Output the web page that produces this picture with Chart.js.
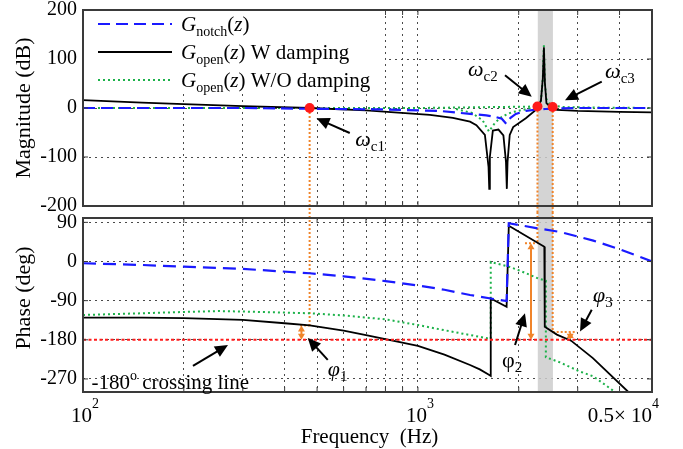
<!DOCTYPE html>
<html>
<head>
<meta charset="utf-8">
<script src="https://cdn.jsdelivr.net/npm/chart.js@4.4.0/dist/chart.umd.min.js"></script>
<style>
  body { margin: 0; background: #fff; }
  #wrap { position: relative; width: 683px; height: 449px; }
  canvas { position: absolute; left: 0; }
  #magChart { top: 0; }
  #phaseChart { top: 212px; }
</style>
</head>
<body>
<div id="wrap">
  <canvas id="magChart" width="683" height="212"></canvas>
  <canvas id="phaseChart" width="683" height="237"></canvas>
</div>
<script>
// ---- values (frequency in Hz) ----
const notchMagFreq = [100, 300, 546, 800, 1160, 1431, 1600, 1700, 1780, 1835, 1890, 1960, 2100, 2275, 2400, 2600, 3000, 5000];
const notchMagDb   = [0, 0, -2, -3, -6, -12, -15, -18, -22, -32, -20, -12, -6, -3, -2, -1, 0, 0];

const openMagFreq = [100, 150, 200, 300, 475, 700, 1086, 1272, 1431, 1495, 1585, 1625, 1633, 1640, 1674, 1740, 1800, 1832, 1843, 1852,
                     1880, 1925, 2100, 2250, 2275, 2330, 2360, 2378, 2395, 2420, 2460, 2526, 2600, 3000, 4000, 5000];
const openMagDb   = [16, 11, 8, 4, 0, -5, -14, -20, -28, -35, -55, -120, -165, -100, -46, -44, -56, -110, -165, -110,
                     -55, -39, -21, -4, 1, 15, 60, 124, 50, 10, 5, 1, -4, -6, -8, -9];

const undampedMagFreq = [100, 1000, 2275, 2330, 2360, 2378, 2395, 2420, 2460, 2526, 2700, 3200, 5000];
const undampedMagDb   = [0, 0, 3, 15, 60, 128, 50, 18, 10, 5, 2, 1, 0];
const undampedDipFreq = [1300, 1450, 1560, 1630, 1700, 1780, 1900, 2050, 2275];
const undampedDipDb   = [-2, -10, -25, -48, -30, -18, -9, -4, 3];

const notchPhaseFreq = [100, 150, 200, 300, 475, 600, 800, 1000, 1200, 1431, 1650, 1840, 1868, 2288, 2656, 3340, 4010, 5000];
const notchPhaseDeg  = [-4, -8, -12, -17, -27, -34, -45, -55, -65, -77, -85, -91, 88, 76, 68, 48, 28, 0];

const openPhaseFreq = [100, 150, 200, 300, 400, 475, 600, 700, 820, 1000, 1200, 1431, 1530, 1620, 1650, 1650, 1840, 1868, 2385, 2392, 2600, 2866, 3330, 4250];
const openPhaseDeg  = [-129, -129, -130, -134, -142, -147, -159, -169, -180, -194, -214, -238, -248, -259, -263, -85, -104, 82, 34, -150, -168, -182, -222, -300];

const undampedPhaseFreq = [100, 150, 200, 255, 300, 475, 600, 800, 1000, 1200, 1431, 1600, 1650, 1650, 1870, 2000, 2288, 2410, 2410, 2656, 3048, 3340, 3879];
const undampedPhaseDeg  = [-123, -119, -116, -114, -115, -119, -124, -133, -146, -158, -169, -176, -178, -1, -12, -20, -39, -44, -220, -232, -253, -264, -300];

const crossLineFreq = [100, 5000];
const crossLineDeg  = [-180, -180];

// crossover points wc1..wc3 and phase margins phi1..phi3
const crossFreq     = [475, 2275, 2526];
const crossMagDb    = [0, 3, 2];
const crossPhaseDeg = [-147, 42, -162];
const marginFreq    = [449, 2176, 2850];
const guideFromFreq = [445, 2088, 2526];
const guideToFreq   = [475, 2275, 2982];
const bandFreq      = [2280, 2530];

// axis ticks
const xGridTicks = [100, 200, 300, 400, 500, 600, 700, 800, 900, 1000, 2000, 3000, 4000, 5000];
const magTicks   = [-200, -100, 0, 100, 200];
const phaseTicks = [-270, -180, -90, 0, 90];
const xTickValues = [100, 1000, 5000];
const xTickBase   = ['10', '10', '0.5\u00d7 10'];
const xTickExp    = ['2', '3', '4'];

// annotation text positions (data units)
const magLabelSub  = ['c1', 'c2', 'c3'];
const magLabelFreq = [650, 1411, 3622];
const magLabelDb   = [-65, 77, 74];
const magArrowTail = [[626, -51], [1820, 67], [3539, 54]];
const magArrowHead = [[498, -21], [2187, 23], [2749, 16]];

const phaseLabelSub    = ['1', '2', '3'];
const phaseLabelItalic = [true, false, true];
const phaseLabelFreq   = [538, 1782, 3334];
const phaseLabelDeg    = [-249, -229, -79];
const phaseArrowTail = [[213, -240], [538, -226], [1950, -192], [3304, -111]];
const phaseArrowHead = [[271, -192], [469, -176], [2088, -119], [3048, -161]];
const crossTextFreq = 106;
const crossTextDeg  = -276;

const FONT = "'Liberation Serif', 'DejaVu Serif', serif";
const BLUE = '#1a1aff', GREEN = '#1db24a', ORANGE = '#f0842a', RED = '#ff1a1a';
const BAND = 'rgba(205,205,205,0.85)', GRID = '#4a4a4a', FRAME = '#3a3a3a';

const pts = (xs, ys) => xs.map((x, i) => ({ x: x, y: ys[i] }));
const seg = (t, size, italic, dy) => ({ t: t, size: size, italic: !!italic, dy: dy || 0 });
const font = (size, italic) => (italic ? 'italic ' : '') + size + 'px ' + FONT;

function richWidth(ctx, segs) {
    let w = 0;
    segs.forEach(s => { ctx.font = font(s.size, s.italic); w += ctx.measureText(s.t).width; });
    return w;
}

function drawRich(ctx, segs, x, y, align) {
    const w = richWidth(ctx, segs);
    let cx = align === 'center' ? x - w / 2 : align === 'right' ? x - w : x;
    ctx.save();
    ctx.fillStyle = '#000';
    ctx.textAlign = 'left';
    ctx.textBaseline = 'alphabetic';
    segs.forEach(s => {
        ctx.font = font(s.size, s.italic);
        ctx.fillText(s.t, cx, y + s.dy);
        cx += ctx.measureText(s.t).width;
    });
    ctx.restore();
}

function head(ctx, x1, y1, x2, y2, len, half) {
    const a = Math.atan2(y2 - y1, x2 - x1);
    const bx = x2 - len * Math.cos(a), by = y2 - len * Math.sin(a);
    ctx.beginPath();
    ctx.moveTo(x2, y2);
    ctx.lineTo(bx + half * Math.sin(a), by - half * Math.cos(a));
    ctx.lineTo(bx - half * Math.sin(a), by + half * Math.cos(a));
    ctx.closePath();
    ctx.fill();
}

function arrow(ctx, x1, y1, x2, y2) {
    const a = Math.atan2(y2 - y1, x2 - x1);
    ctx.save();
    ctx.strokeStyle = '#000';
    ctx.fillStyle = '#000';
    ctx.lineWidth = 2;
    ctx.setLineDash([]);
    ctx.beginPath();
    ctx.moveTo(x1, y1);
    ctx.lineTo(x2 - 10 * Math.cos(a), y2 - 10 * Math.sin(a));
    ctx.stroke();
    head(ctx, x1, y1, x2, y2, 13, 6);
    ctx.restore();
}

function doubleArrow(ctx, x, y1, y2) {
    ctx.save();
    ctx.strokeStyle = ORANGE;
    ctx.fillStyle = ORANGE;
    ctx.lineWidth = 2;
    ctx.setLineDash([]);
    ctx.beginPath();
    ctx.moveTo(x, y1 + 4);
    ctx.lineTo(x, y2 - 4);
    ctx.stroke();
    head(ctx, x, y2, x, y1, 6, 3.5);
    head(ctx, x, y1, x, y2, 6, 3.5);
    ctx.restore();
}

function dotted(ctx, x1, y1, x2, y2) {
    ctx.save();
    ctx.strokeStyle = ORANGE;
    ctx.lineWidth = 2;
    ctx.setLineDash([2, 2]);
    ctx.beginPath();
    ctx.moveTo(x1, y1);
    ctx.lineTo(x2, y2);
    ctx.stroke();
    ctx.restore();
}

function drawFrame(chart, yTicks) {
    const { ctx, chartArea: a, scales: { x, y } } = chart;
    ctx.save();
    ctx.strokeStyle = FRAME;
    ctx.setLineDash([]);
    ctx.lineWidth = 1;
    ctx.beginPath();
    xGridTicks.forEach(v => {
        const px = x.getPixelForValue(v);
        ctx.moveTo(px, a.bottom); ctx.lineTo(px, a.bottom - 5);
        ctx.moveTo(px, a.top); ctx.lineTo(px, a.top + 5);
    });
    yTicks.forEach(v => {
        const py = y.getPixelForValue(v);
        ctx.moveTo(a.left, py); ctx.lineTo(a.left + 5, py);
        ctx.moveTo(a.right, py); ctx.lineTo(a.right - 5, py);
    });
    ctx.stroke();
    ctx.lineWidth = 2;
    ctx.strokeRect(a.left, a.top, a.right - a.left, a.bottom - a.top);
    ctx.restore();
}

function axisTitle(ctx, text, cx, cy) {
    ctx.save();
    ctx.translate(cx, cy);
    ctx.rotate(-Math.PI / 2);
    ctx.fillStyle = '#000';
    ctx.font = font(22, false);
    ctx.textAlign = 'center';
    ctx.textBaseline = 'middle';
    ctx.fillText(text, 0, 0);
    ctx.restore();
}

function band(chart, top, bottom) {
    const { ctx, scales: { x } } = chart;
    const b0 = x.getPixelForValue(bandFreq[0]), b1 = x.getPixelForValue(bandFreq[1]);
    ctx.save();
    ctx.fillStyle = BAND;
    ctx.fillRect(b0, top, b1 - b0, bottom - top);
    ctx.restore();
}

const magDecor = {
    id: 'magDecor',
    beforeDatasetsDraw(chart) {
        const { ctx, chartArea: a, scales: { x, y } } = chart;
        band(chart, a.top, chart.height);
        crossFreq.forEach((f, i) => {
            const px = x.getPixelForValue(f);
            dotted(ctx, px, y.getPixelForValue(crossMagDb[i]), px, chart.height);
        });
    },
    afterDatasetsDraw(chart) {
        drawFrame(chart, magTicks);
    },
    afterDraw(chart) {
        const { ctx, chartArea: a, scales: { x, y } } = chart;
        // legend on a white patch, like the original figure
        ctx.save();
        ctx.fillStyle = '#fff';
        ctx.fillRect(a.left + 1, a.top + 1, 301, 81);
        ctx.restore();
        const legendStyles = [
            { color: BLUE, dash: [12, 6], width: 2.2 },
            { color: '#000', dash: [], width: 1.8 },
            { color: GREEN, dash: [2, 3], width: 2 }
        ];
        const legendText = [
            [seg('G', 21, true), seg('notch', 14, false, 5), seg('(', 21), seg('z', 21, true), seg(')', 21)],
            [seg('G', 21, true), seg('open', 14, false, 5), seg('(', 21), seg('z', 21, true), seg(') W damping', 21)],
            [seg('G', 21, true), seg('open', 14, false, 5), seg('(', 21), seg('z', 21, true), seg(') W/O damping', 21)]
        ];
        legendStyles.forEach((st, i) => {
            const ly = a.top + 14 + i * 28;
            ctx.save();
            ctx.strokeStyle = st.color;
            ctx.lineWidth = st.width;
            ctx.setLineDash(st.dash);
            ctx.beginPath();
            ctx.moveTo(a.left + 15, ly);
            ctx.lineTo(a.left + 89, ly);
            ctx.stroke();
            ctx.restore();
            drawRich(ctx, legendText[i], a.left + 98, ly + 7, 'left');
        });
        magLabelSub.forEach((s, i) => {
            drawRich(ctx, [seg('\u03c9', 22, true), seg(s, 15, false, 5)],
                x.getPixelForValue(magLabelFreq[i]), y.getPixelForValue(magLabelDb[i]) + 6, 'left');
            arrow(ctx, x.getPixelForValue(magArrowTail[i][0]), y.getPixelForValue(magArrowTail[i][1]),
                x.getPixelForValue(magArrowHead[i][0]), y.getPixelForValue(magArrowHead[i][1]));
        });
        axisTitle(ctx, 'Magnitude (dB)', 24, (a.top + a.bottom) / 2);
    }
};

const phaseDecor = {
    id: 'phaseDecor',
    beforeDatasetsDraw(chart) {
        const { ctx, chartArea: a, scales: { x, y } } = chart;
        band(chart, 0, a.bottom);
        crossFreq.forEach((f, i) => {
            const px = x.getPixelForValue(f);
            const py = y.getPixelForValue(crossPhaseDeg[i]);
            dotted(ctx, px, 0, px, py);
            dotted(ctx, x.getPixelForValue(guideFromFreq[i]), py, x.getPixelForValue(guideToFreq[i]), py);
            doubleArrow(ctx, x.getPixelForValue(marginFreq[i]), py, y.getPixelForValue(-180));
        });
    },
    afterDatasetsDraw(chart) {
        drawFrame(chart, phaseTicks);
    },
    afterDraw(chart) {
        const { ctx, chartArea: a, scales: { x, y } } = chart;
        // x tick labels with exponents
        xTickValues.forEach((v, i) => {
            const segs = [seg(xTickBase[i], 21), seg(xTickExp[i], 14, false, -14)];
            const px = x.getPixelForValue(v);
            if (i === xTickValues.length - 1) {
                drawRich(ctx, segs, a.right + 7, a.bottom + 30, 'right');
            } else {
                drawRich(ctx, segs, px + 2, a.bottom + 30, 'center');
            }
        });
        drawRich(ctx, [seg('Frequency  (Hz)', 21)], (a.left + a.right) / 2 + 2, a.bottom + 51, 'center');
        axisTitle(ctx, 'Phase (deg)', 24, a.top + 80);

        drawRich(ctx, [seg('-180', 21), seg('o', 14, false, -9), seg(' crossing line', 21)],
            x.getPixelForValue(crossTextFreq), y.getPixelForValue(crossTextDeg) + 7, 'left');
        phaseLabelSub.forEach((s, i) => {
            drawRich(ctx, [seg('\u03c6', 22, phaseLabelItalic[i]), seg(s, 15, false, 5)],
                x.getPixelForValue(phaseLabelFreq[i]), y.getPixelForValue(phaseLabelDeg[i]) + 6, 'left');
        });
        phaseArrowTail.forEach((t, i) => {
            arrow(ctx, x.getPixelForValue(t[0]), y.getPixelForValue(t[1]),
                x.getPixelForValue(phaseArrowHead[i][0]), y.getPixelForValue(phaseArrowHead[i][1]));
        });
    }
};

function makeChart(id, datasets, yMin, yMax, yTicks, padding, plugin) {
    return new Chart(document.getElementById(id), {
        type: 'line',
        data: { datasets: datasets },
        options: {
            responsive: false,
            animation: false,
            events: [],
            layout: { padding: padding },
            elements: { point: { radius: 0 }, line: { tension: 0, fill: false } },
            plugins: { legend: { display: false }, tooltip: { enabled: false } },
            scales: {
                x: {
                    type: 'logarithmic',
                    min: 100,
                    max: 5000,
                    afterBuildTicks: s => { s.ticks = xGridTicks.map(v => ({ value: v })); },
                    afterFit: s => { s.height = 0; s.paddingLeft = 0; s.paddingRight = 0; },
                    ticks: { display: false },
                    grid: { color: GRID, lineWidth: 1, drawTicks: false },
                    border: { display: false, dash: [2, 4] }
                },
                y: {
                    type: 'linear',
                    min: yMin,
                    max: yMax,
                    afterBuildTicks: s => { s.ticks = yTicks.map(v => ({ value: v })); },
                    afterFit: s => { s.width = 83; s.paddingTop = 0; s.paddingBottom = 0; },
                    ticks: { color: '#000', padding: 6, font: { family: FONT, size: 20 }, callback: v => String(v) },
                    grid: { color: GRID, lineWidth: 1, drawTicks: false },
                    border: { display: false, dash: [2, 4] }
                }
            }
        },
        plugins: [plugin]
    });
}

const greenStyle = { borderColor: GREEN, borderWidth: 2, borderDash: [2, 3] };

makeChart('magChart', [
    { data: pts(crossFreq, crossMagDb), showLine: false, pointRadius: 5, pointBackgroundColor: RED, pointBorderColor: RED, pointBorderWidth: 0 },
    { data: pts(notchMagFreq, notchMagDb), borderColor: BLUE, borderWidth: 2.2, borderDash: [12, 6] },
    { data: pts(openMagFreq, openMagDb), borderColor: '#000', borderWidth: 1.8 },
    Object.assign({ data: pts(undampedMagFreq, undampedMagDb) }, greenStyle),
    Object.assign({ data: pts(undampedDipFreq, undampedDipDb) }, greenStyle)
], -200, 200, magTicks, { left: 0, right: 31, top: 10, bottom: 6 }, magDecor);

makeChart('phaseChart', [
    { data: pts(crossLineFreq, crossLineDeg), borderColor: RED, borderWidth: 2, borderDash: [3, 2.5] },
    { data: pts(notchPhaseFreq, notchPhaseDeg), borderColor: BLUE, borderWidth: 2.2, borderDash: [13, 7] },
    { data: pts(openPhaseFreq, openPhaseDeg), borderColor: '#000', borderWidth: 1.8 },
    Object.assign({ data: pts(undampedPhaseFreq, undampedPhaseDeg) }, greenStyle)
], -300, 100, phaseTicks, { left: 0, right: 31, top: 6, bottom: 57 }, phaseDecor);
</script>
</body>
</html>
